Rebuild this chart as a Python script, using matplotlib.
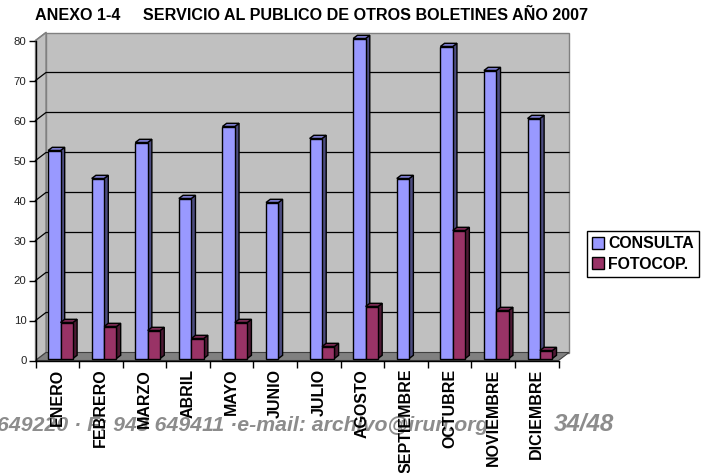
import numpy as np
import matplotlib
matplotlib.use('Agg')
import matplotlib.pyplot as plt
from matplotlib.patches import Polygon, Patch

plt.rcParams['font.family'] = ['Liberation Sans', 'DejaVu Sans']

# Datos del grafico
meses = ['ENERO', 'FEBRERO', 'MARZO', 'ABRIL', 'MAYO', 'JUNIO', 'JULIO',
         'AGOSTO', 'SEPTIEMBRE', 'OCTUBRE', 'NOVIEMBRE', 'DICIEMBRE']
consulta = [52, 45, 54, 40, 58, 39, 55, 80, 45, 78, 72, 60]
fotocop = [9, 8, 7, 5, 9, 0, 3, 13, 0, 32, 12, 2]
yticks = [0, 10, 20, 30, 40, 50, 60, 70, 80]

W, H = 704, 473
fig = plt.figure(figsize=(W / 100, H / 100), dpi=100)
x0, x1, y0, y1 = 35.5, 558.5, 360.5, 40.5
ax = fig.add_axes([x0 / W, 1 - y0 / H, (x1 - x0) / W, (y0 - y1) / H])
ax.set_xlim(0, 12)
ax.set_ylim(0, 80)
ax.patch.set_visible(False)

# Profundidad del falso 3D, en unidades de datos
prof_x = 10.5 / 43.58
prof_y = 2.0
gris = '#808080'

# Paredes y suelo
ax.add_patch(Polygon([(prof_x, prof_y), (12 + prof_x, prof_y), (12 + prof_x, 80 + prof_y), (prof_x, 80 + prof_y)],
                     fc='#c0c0c0', ec=gris, lw=1, clip_on=False, zorder=1))
ax.add_patch(Polygon([(0, 0), (prof_x, prof_y), (prof_x, 80 + prof_y), (0, 80)],
                     fc='#c0c0c0', ec=gris, lw=1, clip_on=False, zorder=1))
ax.add_patch(Polygon([(0, 0), (12, 0), (12 + prof_x, prof_y), (prof_x, prof_y)],
                     fc=gris, ec='#404040', lw=0.8, clip_on=False, zorder=1))

# Lineas de la rejilla
for v in yticks[1:-1]:
    ax.plot([0, prof_x, 12 + prof_x], [v, v + prof_y, v + prof_y], c='black', lw=0.9, clip_on=False, zorder=2)
ax.plot([0, prof_x], [80, 80 + prof_y], c=gris, lw=1, clip_on=False, zorder=2)


def barra(x, v, color, lateral, tapa, z):
    # cara frontal con bar, lateral y tapa como poligonos
    ancho = 12.4 / 43.58
    dx, dy = 4.2 / 43.58, 0.8
    base = 0.5
    ax.bar(x, v, ancho, bottom=base, align='edge', color=color, edgecolor='black', lw=1.0, clip_on=False, zorder=z + 0.2)
    t = v + base
    ax.add_patch(Polygon([(x + ancho, base), (x + ancho + dx, base + dy), (x + ancho + dx, t + dy), (x + ancho, t)],
                         fc=lateral, ec='black', lw=1.0, clip_on=False, zorder=z))
    ax.add_patch(Polygon([(x, t), (x + dx, t + dy), (x + ancho + dx, t + dy), (x + ancho, t)],
                         fc=tapa, ec='black', lw=1.0, clip_on=False, zorder=z))


for i in range(12):
    inicio = i + 12.6 / 43.58
    if consulta[i] > 0:
        barra(inicio, consulta[i], '#9999ff', '#4c4c80', '#7a7acc', 3 + i * 0.01)
    if fotocop[i] > 0:
        barra(inicio + 12.4 / 43.58, fotocop[i], '#993366', '#4d1933', '#7a2952', 4 + i * 0.01)

# Ejes
for s in ['top', 'right']:
    ax.spines[s].set_visible(False)
for s in ['left', 'bottom']:
    ax.spines[s].set_zorder(6)
    ax.spines[s].set_linewidth(1)
ax.set_yticks(yticks)
ax.tick_params(axis='y', length=5, width=1, pad=1.5, labelsize=8.2, labelcolor='#222222')
ax.set_xticks(range(13))
ax.set_xticklabels([])
ax.tick_params(axis='x', which='major', length=5, width=1)
ax.set_xticks(np.arange(12) + 0.5, minor=True)
ax.set_xticklabels(meses, minor=True, rotation=90, fontweight='bold', fontsize=11.5, color='black')
ax.tick_params(axis='x', which='minor', length=0, pad=6)

# Titulo
fig.text(35 / W, 1 - 16 / H, 'ANEXO 1-4     SERVICIO AL PUBLICO DE OTROS BOLETINES AÑO 2007',
         fontweight='bold', fontsize=11.6, va='center', ha='left')

# Leyenda
fig.legend(handles=[Patch(fc='#9999ff', ec='black', label='CONSULTA'),
                    Patch(fc='#993366', ec='black', label='FOTOCOP.')],
           loc='center left', bbox_to_anchor=(587 / W, 1 - 254 / H), frameon=True, fancybox=False,
           edgecolor='black', framealpha=1, borderaxespad=0, borderpad=0.3,
           handlelength=0.75, handleheight=0.75, handletextpad=0.3, labelspacing=0.35,
           prop={'weight': 'bold', 'size': 11.4})

# Pie de pagina del documento, detras de los rotulos
fig.text(-3 / W, 1 - 425.5 / H, '649220 · F: 943 649411 ·e-mail: archivo@irun.org',
         color='#8c8c8c', fontweight='bold', fontstyle='italic', fontsize=15.3, va='center', ha='left', zorder=-1)
fig.text(554 / W, 1 - 424 / H, '34/48', color='#8c8c8c', fontweight='bold', fontstyle='italic',
         fontsize=17.4, va='center', ha='left', zorder=-1)

fig.savefig('out.png', dpi=100)
